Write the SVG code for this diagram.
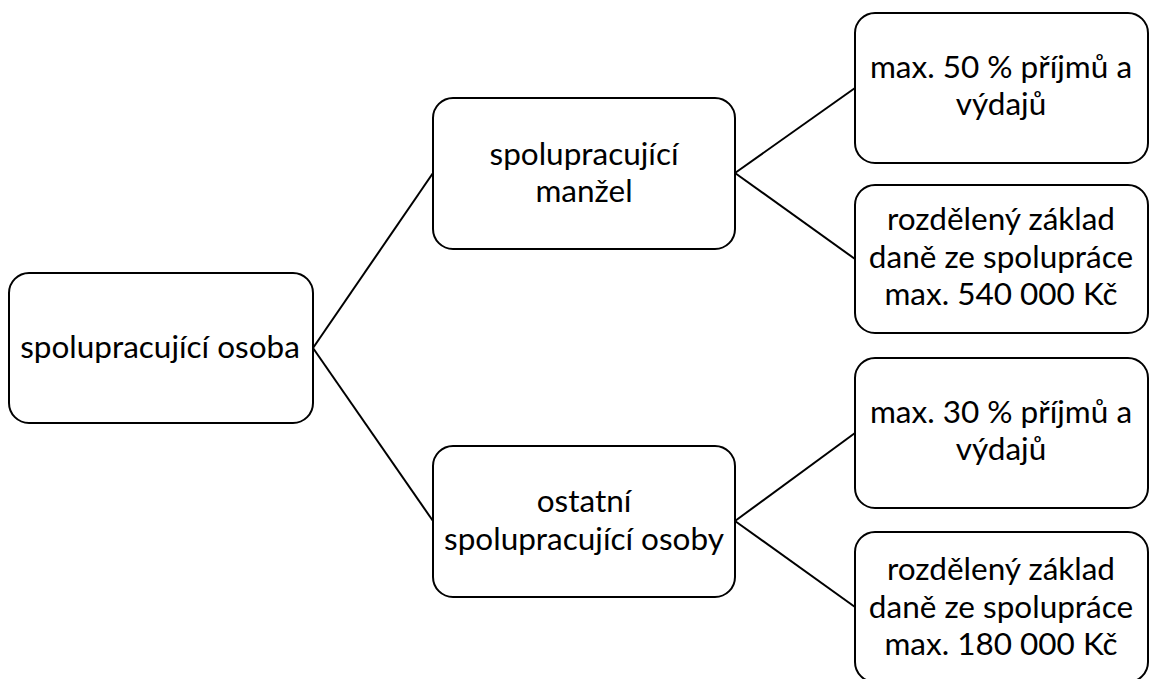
<svg xmlns="http://www.w3.org/2000/svg" width="1150" height="679" viewBox="0 0 1150 679">
<style>
.box{fill:#fff;stroke:#000;stroke-width:2}
.t{font-family:Lato,"Liberation Sans",sans-serif;font-size:31.5px;fill:#000;text-anchor:middle}
.c{stroke:#000;stroke-width:2;fill:none}
</style>
<rect width="1150" height="679" fill="#fff"/>
<g id="connectors">
<line class="c" x1="313" y1="348" x2="433" y2="173"/>
<line class="c" x1="313" y1="348" x2="433" y2="521"/>
<line class="c" x1="735" y1="173" x2="855" y2="88"/>
<line class="c" x1="735" y1="173" x2="855" y2="259"/>
<line class="c" x1="735" y1="521" x2="855" y2="433"/>
<line class="c" x1="735" y1="521" x2="855" y2="607"/>
</g>
<g id="root">
<rect class="box" x="9" y="273" width="304" height="150" rx="20"/>
<text class="t" x="160" y="358">spolupracující osoba</text>
</g>
<g id="manzel">
<rect class="box" x="433" y="98" width="302" height="151" rx="20"/>
<text class="t" x="584" y="165">spolupracující</text>
<text class="t" x="584" y="202">manžel</text>
</g>
<g id="ostatni">
<rect class="box" x="433" y="446" width="302" height="151" rx="20"/>
<text class="t" x="584" y="512">ostatní</text>
<text class="t" x="584" y="550">spolupracující osoby</text>
</g>
<g id="m50">
<rect class="box" x="855" y="13" width="293" height="150" rx="20"/>
<text class="t" x="1001" y="78">max. 50 % příjmů a</text>
<text class="t" x="1001" y="115">výdajů</text>
</g>
<g id="z540">
<rect class="box" x="855" y="185" width="293" height="148" rx="20"/>
<text class="t" x="1001" y="230">rozdělený základ</text>
<text class="t" x="1001" y="268">daně ze spolupráce</text>
<text class="t" x="1001" y="305">max. 540 000 Kč</text>
</g>
<g id="m30">
<rect class="box" x="855" y="358" width="293" height="150" rx="20"/>
<text class="t" x="1001" y="423">max. 30 % příjmů a</text>
<text class="t" x="1001" y="460">výdajů</text>
</g>
<g id="z180">
<rect class="box" x="855" y="532" width="293" height="150" rx="20"/>
<text class="t" x="1001" y="580">rozdělený základ</text>
<text class="t" x="1001" y="618">daně ze spolupráce</text>
<text class="t" x="1001" y="655">max. 180 000 Kč</text>
</g>
</svg>
